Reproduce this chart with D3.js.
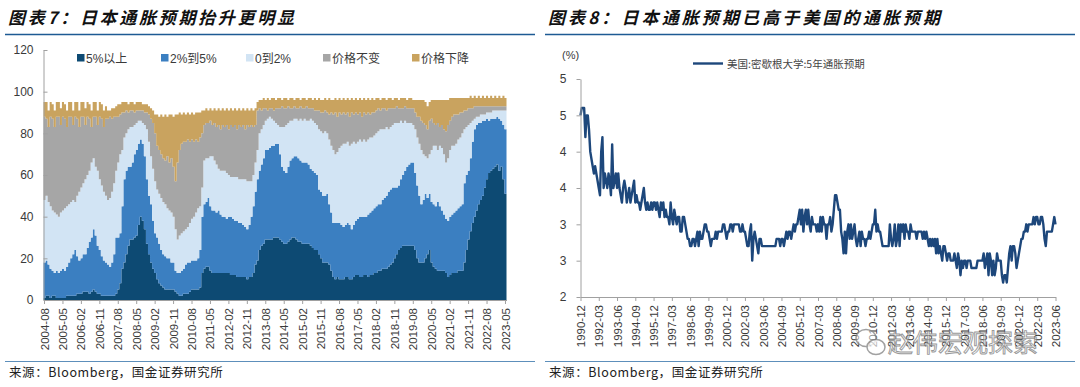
<!DOCTYPE html>
<html>
<head>
<meta charset="utf-8">
<script src="https://cdn.jsdelivr.net/npm/d3@7/dist/d3.min.js"></script>
<style>
  body { margin: 0; background: #fff; }
  svg text { font-family: "Liberation Sans", "Noto Sans CJK SC", sans-serif; }
</style>
</head>
<body>
<svg id="chart" width="1080" height="387"></svg>
<script>
// ---- chart 7: Japan, share of households by expected price change (monthly, 2004-08 .. 2023-05)
const jpDark = [1,2,2,1,2,2,1,1,1,1,1,2,2,2,2,2,3,3,3,4,4,4,3,4,5,4,3,3,2,2,2,2,2,2,2,3,
  5,8,15,18,22,26,29,29,30,31,36,40,38,34,27,22,18,15,13,10,8,7,6,5,5,5,5,5,4,3,2,2,3,3,3,4,5,5,5,5,6,
  13,15,16,16,14,13,13,13,13,13,13,13,13,13,12,12,12,11,11,11,11,11,10,11,11,13,17,19,
  24,26,27,29,29,29,29,30,30,30,29,28,27,27,28,29,30,30,29,28,28,27,27,27,27,26,25,24,24,22,20,
  18,18,18,17,14,11,10,11,10,10,10,11,11,10,10,11,12,12,11,11,12,12,11,12,12,13,13,14,14,15,15,15,16,17,18,20,22,24,25,26,26,26,26,26,26,24,20,
  18,18,18,20,22,24,18,16,15,14,14,14,14,13,11,12,13,13,13,14,14,14,18,24,29,33,37,40,43,46,48,50,54,58,61,62,63,64,65,62,64,58,51];
const jpMid = [17,17,15,14,12,11,13,12,13,14,13,14,16,18,20,22,18,16,17,18,18,21,25,26,29,27,23,21,19,17,16,15,14,16,20,27,
  25,24,30,40,40,38,35,37,40,41,39,37,37,35,31,28,28,23,19,20,19,17,16,16,15,15,13,13,10,10,11,12,12,14,15,14,14,14,14,15,18,
  27,31,31,33,31,30,30,29,30,28,27,27,26,27,28,27,26,27,26,26,25,24,24,25,29,32,35,39,
  38,39,41,43,43,44,45,44,45,45,41,36,35,34,36,38,38,39,40,40,39,39,39,39,38,37,37,37,36,31,32,
  32,32,33,29,28,26,27,26,27,26,25,25,26,26,24,25,26,27,29,29,28,28,30,30,31,31,32,32,32,33,34,35,36,36,36,34,32,31,33,34,36,38,39,40,40,37,35,
  32,28,30,31,27,27,29,30,30,33,31,29,27,26,27,28,28,29,30,30,31,32,38,36,33,35,39,42,41,39,37,36,32,29,25,25,24,23,23,25,22,26,31];
const jpLow = [30,31,30,30,29,29,27,27,28,28,30,29,28,27,26,23,29,33,34,34,36,35,34,36,34,33,36,34,34,33,32,31,33,34,34,32,
  36,38,27,20,18,18,19,17,14,13,11,9,10,15,24,26,23,25,25,23,24,25,25,25,24,23,24,22,20,16,18,18,18,17,17,19,20,21,23,24,21,
  14,21,21,19,24,26,24,23,20,21,22,22,22,20,19,20,21,21,21,21,22,23,23,21,17,15,14,14,
  18,17,16,14,15,15,13,12,10,9,13,19,21,23,21,19,18,18,18,18,20,20,21,20,21,24,24,24,24,29,29,
  30,31,29,31,32,35,33,34,36,38,40,39,39,38,41,40,37,37,37,36,37,36,36,36,35,35,35,35,36,34,33,33,30,30,30,31,31,30,28,25,24,21,20,19,18,21,23,
  25,26,22,18,19,19,25,28,29,25,29,30,29,27,30,32,33,32,32,33,33,34,26,23,22,17,10,5,4,3,4,3,3,3,4,3,4,4,3,4,5,7,9];
const jpFlat = [40,37,36,43,44,41,47,48,42,45,43,38,42,41,36,41,37,31,34,32,26,28,25,17,20,24,22,30,32,31,37,39,39,35,32,26,
  22,19,18,12,11,8,8,8,6,6,5,5,6,6,8,13,18,22,23,21,21,21,21,21,25,23,26,24,23,37,41,43,43,42,42,39,38,36,35,32,33,
  26,17,17,17,17,15,18,18,21,20,22,21,23,22,25,24,25,23,26,25,26,24,27,26,27,23,18,19,
  12,9,8,6,4,4,5,5,7,8,9,10,9,8,8,6,6,6,5,6,6,6,5,7,6,5,6,6,7,9,9,
  10,10,10,12,16,17,20,17,17,15,15,14,14,14,15,13,15,13,13,12,13,13,13,11,12,11,11,11,9,10,10,8,10,9,8,7,8,7,6,7,7,7,7,7,8,8,10,
  13,14,15,15,14,16,15,11,10,13,9,11,12,15,16,14,14,15,14,12,12,10,9,8,8,7,6,6,5,5,4,4,4,3,3,3,2,2,2,2,2,2,2];
const jpDown = [7,8,8,7,7,8,7,7,8,7,7,8,7,7,7,7,8,8,7,7,8,7,7,8,7,7,7,7,7,8,6,4,3,5,4,5,
  6,5,5,5,4,4,4,4,4,4,4,4,3,4,4,4,5,6,9,15,16,19,20,22,19,23,21,24,32,23,18,14,14,13,13,13,13,13,13,14,12,
  11,7,7,6,6,7,7,8,8,9,8,8,8,9,8,8,8,9,8,8,8,9,8,8,8,8,8,4,
  4,5,5,4,6,4,5,6,4,5,5,3,5,5,3,5,5,3,5,5,3,5,5,3,5,5,4,6,5,6,6,
  6,6,6,8,6,7,7,8,7,7,7,7,7,8,7,7,7,7,7,8,7,7,7,7,7,6,6,5,5,5,5,5,5,5,4,5,4,4,5,5,4,4,5,5,4,6,8,
  8,10,11,11,11,9,9,11,12,11,13,12,14,15,12,11,9,8,8,8,7,7,6,6,5,6,5,5,4,5,4,5,4,5,4,5,4,5,4,5,4,5,4];

const jpNames = ["5%以上", "2%到5%", "0到2%", "价格不变", "价格下降"];
const jpTicks = ["2004-08","2005-05","2006-02","2006-11","2007-08","2008-05","2009-02","2009-11",
  "2010-08","2011-05","2012-02","2012-11","2013-08","2014-05","2015-02","2015-11","2016-08",
  "2017-05","2018-02","2018-11","2019-08","2020-05","2021-02","2021-11","2022-08","2023-05"];
const jpYTicks = [0, 20, 40, 60, 80, 100, 120];

// ---- chart 8: US, Michigan 5-year inflation expectation (monthly, 1990-12 .. 2023-06)
const usValues = [4.5,4.6,4.6,4.6,4.2,4.5,4.5,4.3,4.0,3.9,3.8,3.7,3.8,
  3.7,3.6,3.5,3.4,4.0,4.2,3.5,3.7,3.6,3.5,3.7,3.6,
  3.4,4.1,3.5,3.6,3.7,3.5,3.7,3.5,3.4,3.3,3.5,3.6,
  3.5,3.3,3.4,3.5,3.3,3.4,3.5,3.6,3.3,3.4,3.3,3.3,
  3.2,3.3,3.4,3.5,3.3,3.2,3.3,3.2,3.2,3.3,3.2,3.3,
  3.3,3.2,3.3,3.2,3.1,3.3,3.2,3.3,3.1,3.2,3.1,3.1,
  3.0,3.3,3.1,3.0,3.2,3.1,3.0,3.1,3.1,2.9,2.9,3.1,
  3.1,3.0,2.9,2.8,2.8,2.7,2.7,2.8,2.8,2.7,2.8,2.9,
  2.7,2.9,2.8,2.8,2.9,3.0,3.0,2.9,2.9,2.8,2.7,2.8,
  2.8,2.8,2.9,2.8,2.9,2.9,2.9,2.9,3.0,3.0,2.9,2.8,
  2.9,2.9,3.0,3.0,2.9,3.0,3.0,3.0,3.0,3.0,2.9,2.9,
  3.0,2.9,2.9,2.8,2.7,2.7,2.9,3.0,2.5,2.8,2.9,2.8,
  2.7,2.6,2.8,2.8,2.7,2.7,2.7,2.7,2.7,2.7,2.7,2.7,
  2.7,2.7,2.7,2.7,2.8,2.8,2.8,2.7,2.8,2.8,2.7,2.8,
  2.9,2.8,2.9,2.9,2.8,2.9,3.0,2.9,3.0,3.0,3.1,3.2,
  3.0,3.2,2.9,3.1,3.2,3.0,3.2,3.0,2.9,3.1,3.0,3.0,
  3.0,2.9,3.0,2.9,3.1,2.9,3.1,3.0,3.0,2.8,3.0,3.0,
  3.1,2.9,3.0,3.2,3.4,3.4,3.3,3.2,3.2,2.9,2.8,2.6,
  2.9,2.6,2.9,3.0,2.8,3.0,2.8,2.9,3.0,2.8,2.7,2.8,
  2.9,2.7,2.9,2.8,2.8,2.7,2.8,2.8,2.9,2.8,2.9,3.0,
  3.0,3.2,2.9,3.0,2.9,2.9,2.8,2.7,2.7,2.7,2.7,2.7,
  2.7,3.0,2.8,2.7,2.8,3.0,2.7,2.8,3.0,2.7,3.0,2.9,
  3.0,2.8,3.0,2.9,2.9,2.8,3.0,2.9,2.9,2.9,2.9,2.8,
  2.9,2.9,2.9,2.9,2.8,2.9,2.8,2.9,2.8,2.7,2.8,2.7,
  2.8,2.7,2.8,2.6,2.8,2.6,2.7,2.6,2.5,2.7,2.7,2.6,
  2.5,2.6,2.6,2.5,2.5,2.5,2.6,2.5,2.4,2.6,2.5,2.3,
  2.5,2.4,2.5,2.5,2.4,2.5,2.5,2.5,2.4,2.4,2.4,2.4,
  2.4,2.5,2.5,2.5,2.5,2.5,2.6,2.4,2.5,2.6,2.3,2.6,
  2.5,2.3,2.5,2.3,2.4,2.6,2.5,2.5,2.5,2.3,2.2,2.3,
  2.3,2.2,2.4,2.6,2.7,2.5,2.7,2.7,2.6,2.4,2.5,2.6,
  2.7,2.8,2.8,2.9,2.9,3.0,2.9,3.0,3.0,3.0,3.0,3.1,
  3.0,3.1,3.1,3.0,3.0,3.1,3.1,3.0,2.8,2.7,2.9,2.9,
  2.9,2.9,2.9,3.0,3.1,3.0];
const usTicks = ["1990-12","1992-03","1993-06","1994-09","1995-12","1997-03","1998-06","1999-09",
  "2000-12","2002-03","2003-06","2004-09","2005-12","2007-03","2008-06","2009-09","2010-12",
  "2012-03","2013-06","2014-09","2015-12","2017-03","2018-06","2019-09","2020-12","2022-03","2023-06"];
const usYTicks = [2, 2.5, 3, 3.5, 4, 4.5, 5];
const usName = "美国:密歇根大学:5年通胀预期";

const jpColors = ["#0d4a73", "#3b7fc1", "#d2e4f4", "#a6a6a6", "#c9a35f"];
const axisColor = "#a0a0a0";
const labelColor = "#3a3a3a";
const fmtMonth = d3.timeFormat("%Y-%m");

const svg = d3.select("#chart");

// ---------- page furniture: titles, rules, sources ----------
function panelFrame(x0, x1, title, titleLen) {
  svg.append("text")
    .attr("x", x0 + 3).attr("y", 24)
    .attr("textLength", titleLen).attr("lengthAdjust", "spacing")
    .style("font-family", "'Noto Sans CJK SC', sans-serif")
    .style("font-size", "17px").style("font-style", "italic").style("font-weight", 700)
    .style("fill", "#111")
    .text(title);
  svg.append("line").attr("x1", x0).attr("x2", x1).attr("y1", 34.5).attr("y2", 34.5)
    .style("stroke", "#1d5a93").style("stroke-width", 1.5);
  svg.append("line").attr("x1", x0).attr("x2", x1).attr("y1", 361.5).attr("y2", 361.5)
    .style("stroke", "#5d8fbb").style("stroke-width", 1);
  svg.append("text")
    .attr("x", x0 + 4).attr("y", 377)
    .style("font-family", "'Noto Sans CJK SC', sans-serif")
    .style("font-size", "12.5px").style("fill", "#222").style("letter-spacing", "0.6px")
    .text("来源：Bloomberg，国金证券研究所");
}
panelFrame(5, 535, "图表7：日本通胀预期抬升更明显", 286);
panelFrame(545, 1075, "图表8：日本通胀预期已高于美国的通胀预期", 392);

// ---------- chart 7: stacked step areas ----------
const jpMonths = d3.timeMonth.range(new Date(2004, 7, 1), new Date(2023, 5, 1)).map(fmtMonth);
const jpRows = jpMonths.map((m, i) => ({
  month: m,
  [jpNames[0]]: jpDark[i], [jpNames[1]]: jpMid[i], [jpNames[2]]: jpLow[i],
  [jpNames[3]]: jpFlat[i], [jpNames[4]]: jpDown[i]
}));
const stacked = d3.stack().keys(jpNames)(jpRows);

const xJP = d3.scaleBand().domain(jpMonths).range([43.5, 506.5]).paddingInner(0).paddingOuter(0);
const yJP = d3.scaleLinear().domain([0, 120]).range([300, 50]);

const stepArea = d3.area()
  .curve(d3.curveStepAfter)
  .x((d, i) => xJP.range()[0] + i * xJP.step())
  .y0(d => yJP(d[0]))
  .y1(d => yJP(d[1]));

const gJP = svg.append("g");
gJP.selectAll("path.layer")
  .data(stacked)
  .enter()
  .append("path")
  .attr("class", "layer")
  .attr("d", s => stepArea(s.concat([s[s.length - 1]])))
  .style("fill", (s, i) => jpColors[i]);

const yAxisJP = d3.axisLeft(yJP).tickValues(jpYTicks).tickSizeInner(-4).tickSizeOuter(0).tickPadding(10);
const gyJP = svg.append("g").attr("transform", "translate(43.5,0)").call(yAxisJP);
const xAxisJP = d3.axisBottom(xJP).tickValues(jpTicks).tickSizeInner(4).tickSizeOuter(0);
const gxJP = svg.append("g").attr("transform", "translate(0,300)").call(xAxisJP);
gxJP.selectAll("text")
  .attr("transform", "rotate(-90)").attr("x", -8).attr("y", 0).attr("dy", "0.35em")
  .attr("text-anchor", "end").style("font-size", "11.5px");
gyJP.selectAll("text").style("font-size", "12px");

// legend
const legendX = [77, 161, 246, 323, 412];
const gLeg = svg.append("g");
jpNames.forEach((name, i) => {
  gLeg.append("rect").attr("x", legendX[i]).attr("y", 54).attr("width", 7.5).attr("height", 7.5)
    .style("fill", jpColors[i]);
  gLeg.append("text").attr("x", legendX[i] + 9).attr("y", 62.5)
    .style("font-size", "12px").style("fill", labelColor).text(name);
});

// ---------- chart 8: line ----------
const usMonths = d3.timeMonth.range(new Date(1990, 11, 1), new Date(2023, 6, 1)).map(fmtMonth);
const xUS = d3.scalePoint().domain(usMonths).range([580.5, 1055.5]);
const yUS = d3.scaleLinear().domain([2, 5]).range([297, 79]);

svg.append("path")
  .datum(usValues)
  .attr("d", d3.line().x((d, i) => xUS(usMonths[i])).y(d => yUS(d)))
  .style("fill", "none").style("stroke", "#1d477b").style("stroke-width", 2.4)
  .style("stroke-linejoin", "round");

const yAxisUS = d3.axisLeft(yUS).tickValues(usYTicks).tickSizeInner(4).tickSizeOuter(0).tickPadding(10)
  .tickFormat(d => String(Math.round(d)));
const gyUS = svg.append("g").attr("transform", "translate(580.5,0)").call(yAxisUS);
const xAxisUS = d3.axisBottom(xUS).tickValues(usTicks).tickSizeInner(4).tickSizeOuter(0);
const gxUS = svg.append("g").attr("transform", "translate(0,297)").call(xAxisUS);
gxUS.selectAll("text")
  .attr("transform", "rotate(-90)").attr("x", -8).attr("y", 0).attr("dy", "0.35em")
  .attr("text-anchor", "end").style("font-size", "11.5px");
gyUS.selectAll("text").style("font-size", "12px");

svg.append("text").attr("x", 562).attr("y", 59).style("font-size", "11px").style("fill", labelColor).text("(%)");
svg.append("line").attr("x1", 693).attr("x2", 723).attr("y1", 63.5).attr("y2", 63.5)
  .style("stroke", "#1d477b").style("stroke-width", 2.4);
svg.append("text").attr("x", 727).attr("y", 67.5)
  .style("font-family", "'Noto Sans CJK SC', sans-serif")
  .style("font-size", "10.5px").style("fill", "#444").text(usName);

// axis styling shared
svg.selectAll(".domain, .tick line").style("stroke", axisColor);
svg.selectAll(".tick text").style("fill", labelColor);

// watermark
const wm = svg.append("g").style("opacity", 0.8);
wm.append("ellipse").attr("cx", 866).attr("cy", 338).attr("rx", 10).attr("ry", 8.5)
  .style("fill", "#fff").style("fill-opacity", 0.6).style("stroke", "#8a8a8a").style("stroke-width", 1.5);
wm.append("ellipse").attr("cx", 876).attr("cy", 347).attr("rx", 9).attr("ry", 7.5)
  .style("fill", "#fff").style("fill-opacity", 0.8).style("stroke", "#8a8a8a").style("stroke-width", 1.5);
wm.append("text").attr("x", 888).attr("y", 352)
  .style("font-family", "'Noto Sans CJK SC', sans-serif")
  .style("font-size", "25px").style("fill", "#f2f2f2").style("fill-opacity", 0.7)
  .style("stroke", "#7f7f7f").style("stroke-width", 0.9)
  .text("赵伟宏观探索");
</script>
</body>
</html>
